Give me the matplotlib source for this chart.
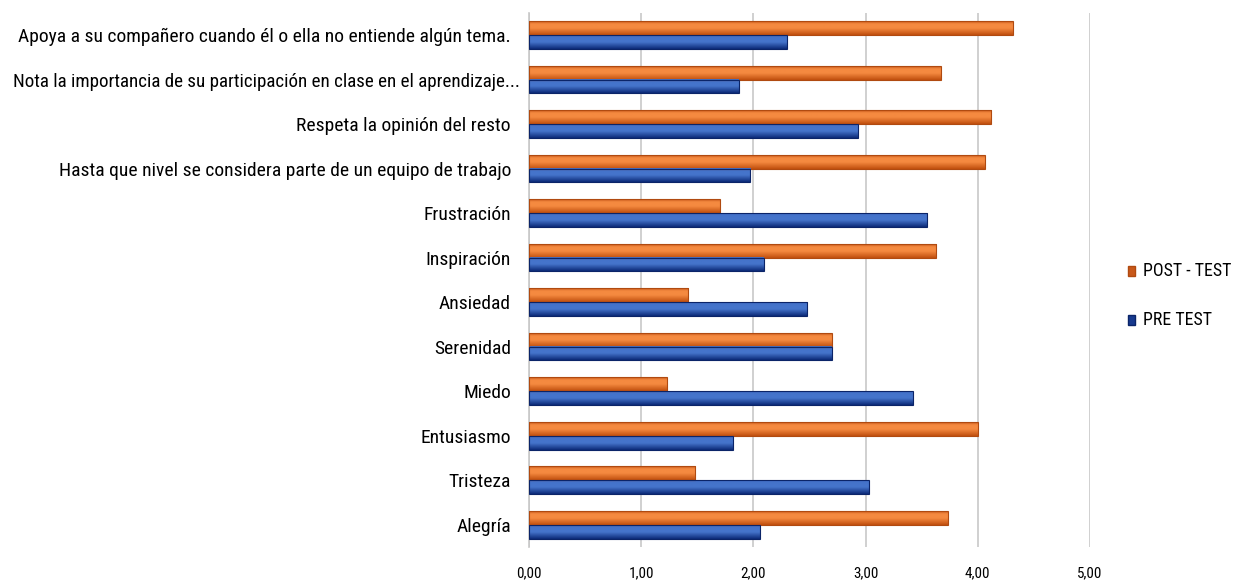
import numpy as np
import matplotlib
matplotlib.use("Agg")
import matplotlib.pyplot as plt
import matplotlib.transforms as mtransforms
from matplotlib.patches import Patch
from matplotlib.ticker import FuncFormatter
from matplotlib import font_manager

# Categories listed bottom to top
categories = [
    "Alegría",
    "Tristeza",
    "Entusiasmo",
    "Miedo",
    "Serenidad",
    "Ansiedad",
    "Inspiración",
    "Frustración",
    "Hasta que nivel se considera parte de un equipo de trabajo",
    "Respeta la opinión del resto",
    "Nota la importancia de su participación en clase en el aprendizaje...",
    "Apoya a su compañero cuando él o ella no entiende algún tema.",
]
post_test = [3.73, 1.48, 4.00, 1.23, 2.70, 1.42, 3.63, 1.70, 4.06, 4.12, 3.67, 4.31]
pre_test = [2.06, 3.03, 1.82, 3.42, 2.70, 2.48, 2.09, 3.55, 1.97, 2.93, 1.87, 2.30]
x_ticks = [0, 1, 2, 3, 4, 5]
series_names = ["POST - TEST", "PRE TEST"]


def pick_narrow_font():
    """Return a FontProperties for a condensed sans face if one is installed."""
    wanted = ["Liberation Sans Narrow", "Roboto Condensed", "Open Sans Condensed",
              "Noto Sans Condensed", "DejaVu Sans Condensed", "DejaVu Sans",
              "Noto Sans", "Open Sans", "Roboto"]
    for name in wanted:
        for f in font_manager.fontManager.ttflist:
            cond = ("condensed" in str(f.stretch)) or ("Condensed" in f.name) or ("Narrow" in f.name)
            if f.name == name and cond and f.style == "normal" and f.weight in (400, "normal", "regular"):
                return font_manager.FontProperties(fname=f.fname)
    return font_manager.FontProperties(family="Liberation Sans")


base_font = pick_narrow_font()

fig = plt.figure(figsize=(12.51, 5.81), dpi=100)
ax = fig.add_axes([0.4229, 0.0585, 0.4484, 0.9195])

y = np.arange(len(categories))
h = 0.31

orange_bars = ax.barh(y + h / 2, post_test, height=h, color="none", edgecolor="none")
blue_bars = ax.barh(y - h / 2, pre_test, height=h, color="none", edgecolor="none")


def shade(c_edge, c_mid, c_low, n=40):
    # vertical shading across the bar thickness (bottom -> top)
    t = np.linspace(0, 1, n)
    stops = [(0.0, c_low), (0.5, c_mid), (0.8, c_mid), (1.0, c_edge)]
    out = np.zeros((n, 1, 3))
    for k in range(3):
        out[:, 0, k] = np.interp(t, [s[0] for s in stops],
                                 [matplotlib.colors.to_rgb(s[1])[k] for s in stops])
    return out


orange_grad = shade("#c95a1c", "#f58a40", "#c04f0e")
blue_grad = shade("#3f6cc4", "#4574cb", "#0c2a78")

for bars, grad, edge in [(orange_bars, orange_grad, "#b04a10"),
                         (blue_bars, blue_grad, "#0b2468")]:
    for r in bars:
        x0, y0 = r.get_x(), r.get_y()
        w, hh = r.get_width(), r.get_height()
        ax.imshow(grad, extent=[x0, x0 + w, y0, y0 + hh], origin="lower",
                  aspect="auto", zorder=3, interpolation="bilinear")
        ax.add_patch(plt.Rectangle((x0, y0), w, hh, fill=False,
                                   edgecolor=edge, linewidth=0.8, zorder=4))

ax.set_xlim(0, 5)
ax.set_ylim(-0.5, len(categories) - 0.5)
ax.set_xticks(x_ticks)
ax.xaxis.set_major_formatter(FuncFormatter(lambda v, p: f"{v:.2f}".replace(".", ",")))
ax.set_yticks(y)
ax.set_yticklabels(categories)
ax.tick_params(axis="y", length=0, pad=13)
ax.tick_params(axis="x", length=0, pad=14)
ax.grid(axis="x", color="#c8c8c8", linewidth=1.2, zorder=0)
ax.set_axisbelow(True)
for s in ["top", "right", "bottom"]:
    ax.spines[s].set_visible(False)
ax.spines["left"].set_color("#c8c8c8")
ax.spines["left"].set_linewidth(1.2)

handles = [Patch(facecolor="#c8581a", edgecolor="#b04a10"),
           Patch(facecolor="#173a8f", edgecolor="#0b2468")]
leg = fig.legend(handles, series_names, loc="center left", bbox_to_anchor=(0.892, 0.4914),
                 frameon=False, prop=base_font, handlelength=0.45, handleheight=0.7,
                 handletextpad=0.6, labelspacing=2.25)

# Size each group of texts so their widths follow the layout
renderer = fig.canvas.get_renderer()


def fit(texts, ref_text, target_px):
    for t in texts:
        t.set_fontproperties(base_font)
    ref_text.set_fontsize(12)
    w = ref_text.get_window_extent(renderer).width
    size = 12 * target_px / w
    for t in texts:
        t.set_fontsize(size)


ylabels = ax.get_yticklabels()
fit(ylabels, ylabels[-1], 489)
# the truncated label runs a little closer to the axis
long_label = ylabels[categories.index(
    "Nota la importancia de su participación en clase en el aprendizaje...")]
fit([long_label], long_label, 507)
long_label.set_transform(long_label.get_transform() +
                         mtransforms.ScaledTranslation(9 / 100, 0, fig.dpi_scale_trans))
xlabels = ax.get_xticklabels()
fit(xlabels, xlabels[1], 25)
ltexts = leg.get_texts()
fit(ltexts, ltexts[0], 88)

fig.savefig("out.png", dpi=100)
